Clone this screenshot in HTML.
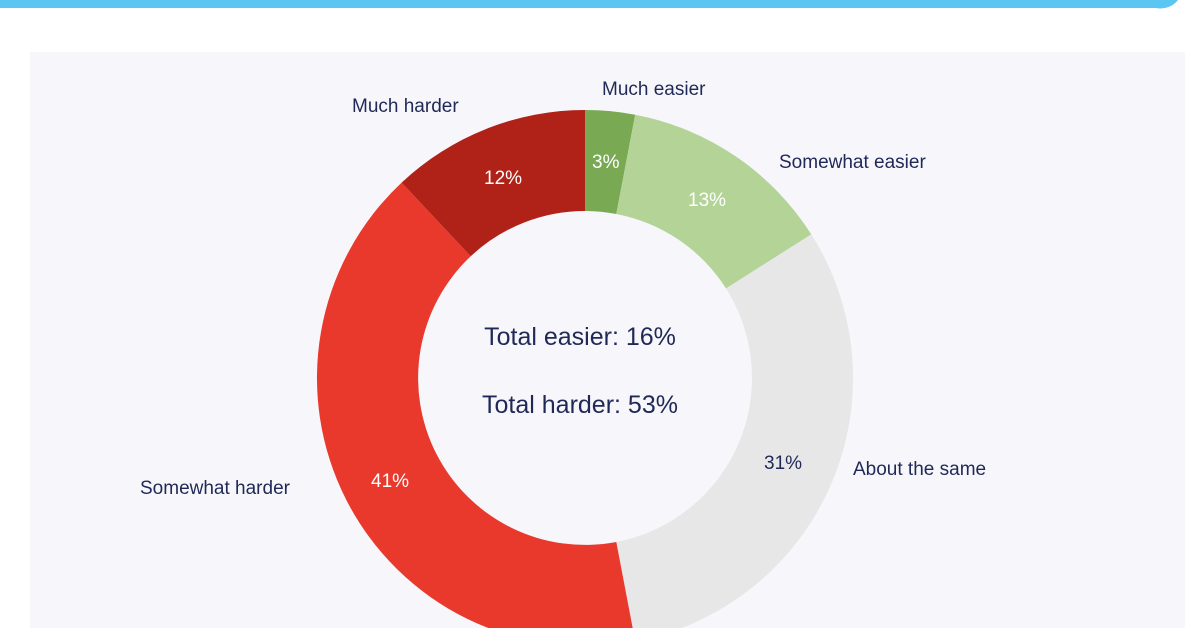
<!DOCTYPE html>
<html><head><meta charset="utf-8"><style>
html,body{margin:0;padding:0;background:#fff;width:1200px;height:628px;overflow:hidden}
svg{display:block}
text{font-family:"Liberation Sans",sans-serif}
</style></head><body>
<svg width="1200" height="628" viewBox="0 0 1200 628" xmlns="http://www.w3.org/2000/svg">
<rect width="1200" height="628" fill="#ffffff"/>
<path d="M0 0 H1178 A22 22 0 0 1 1156 8 H0 Z" fill="#5cc6f2"/>
<rect x="30" y="52" width="1155" height="576" fill="#f7f7fb"/>
<g stroke="none">
<path d="M585 110 A268 268 0 0 1 635.2 114.7 L616.3 214.0 A167 167 0 0 0 585 211 Z" fill="#79aa53"/>
<path d="M635.2 114.7 A268 268 0 0 1 811.3 234.4 L726.0 288.5 A167 167 0 0 0 616.3 214.0 Z" fill="#b4d497"/>
<path d="M811.3 234.4 A268 268 0 0 1 635.2 641.3 L616.3 542.0 A167 167 0 0 0 726.0 288.5 Z" fill="#e7e7e7"/>
<path d="M635.2 641.3 A268 268 0 0 1 401.6 182.6 L470.7 256.3 A167 167 0 0 0 616.3 542.0 Z" fill="#e9392d"/>
<path d="M401.6 182.6 A268 268 0 0 1 585 110 L585 211 A167 167 0 0 0 470.7 256.3 Z" fill="#b02218"/>
</g>
<g font-size="19" fill="#1f2857">
<text x="352" y="112">Much harder</text>
<text x="602" y="95">Much easier</text>
<text x="779" y="168">Somewhat easier</text>
<text x="853" y="475">About the same</text>
<text x="140" y="494">Somewhat harder</text>
<text x="764" y="469">31%</text>
</g>
<g font-size="19" fill="#ffffff">
<text x="484" y="184">12%</text>
<text x="592" y="168">3%</text>
<text x="688" y="206">13%</text>
<text x="371" y="487">41%</text>
</g>
<g font-size="25" fill="#1f2857" text-anchor="middle">
<text x="580" y="345">Total easier: 16%</text>
<text x="580" y="413">Total harder: 53%</text>
</g>
</svg>
</body></html>
